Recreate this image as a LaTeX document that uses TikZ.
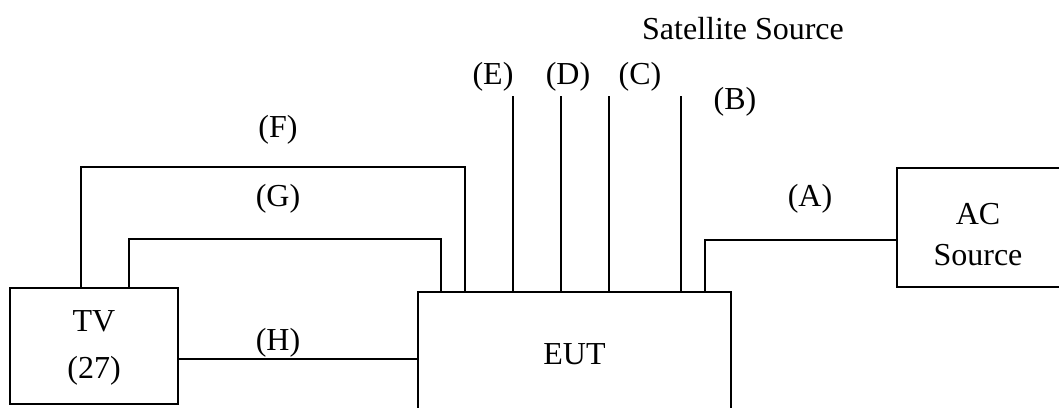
\documentclass[tikz,border=0pt]{standalone}
\usepackage{fontspec}
\setmainfont{Liberation Serif}
\tikzset{
  unitbox/.style={draw, line width=1.8pt, inner sep=0pt},
  tag/.style={inner sep=0pt, font=\fontsize{32}{38}\selectfont},
}
\begin{document}
\begin{tikzpicture}[x=1pt, y=-1pt, line width=1.8pt]
  \useasboundingbox (0,0) rectangle (1059,407);
  % boxes
  \node [unitbox, minimum width=168pt, minimum height=116pt] (tv) at (94,346) {};
  \node [unitbox, minimum width=313pt, minimum height=120pt] (eut) at (574.5,352) {};
  \node [unitbox, minimum width=172pt, minimum height=119pt] (ac) at (983,227.5) {};
  \node [tag, align=center, font=\fontsize{32}{47}\selectfont] (tvtext) at (94,348) {TV\\(27)};
  \node [tag] (euttext) at (574.5,354) {EUT};
  \node [tag, align=center, font=\fontsize{32}{41}\selectfont] (actext) at (978,235) {AC\\Source};
  % cables
  \draw ([xshift=72pt]tv.north west) -- ++(0,-120) -| ([xshift=48pt]eut.north west);
  \draw ([xshift=120pt]tv.north west) -- ++(0,-48) -| ([xshift=24pt]eut.north west);
  \coordinate (hin) at ([yshift=-13pt]tv.east);
  \draw (hin) -- (hin -| eut.west);
  \foreach \dx in {96,144,192,264}
    \draw ([xshift=\dx pt]eut.north west) -- ++(0,-195);
  \coordinate (ain) at ([yshift=-12.5pt]ac.west);
  \draw ([xshift=288pt]eut.north west) |- (ain);
  % labels
  \node [tag] (sat) at (743,29) {Satellite Source};
  \node [tag] (e) at (493,77) {(E)};
  \node [tag] (d) at (568,77) {(D)};
  \node [tag] (c) at (640,77) {(C)};
  \node [tag] (b) at (735,102) {(B)};
  \node [tag] (a) at (810,199) {(A)};
  \node [tag] (f) at (278,130) {(F)};
  \node [tag] (g) at (278,199) {(G)};
  \node [tag] (h) at (278,343) {(H)};
\end{tikzpicture}
\end{document}
